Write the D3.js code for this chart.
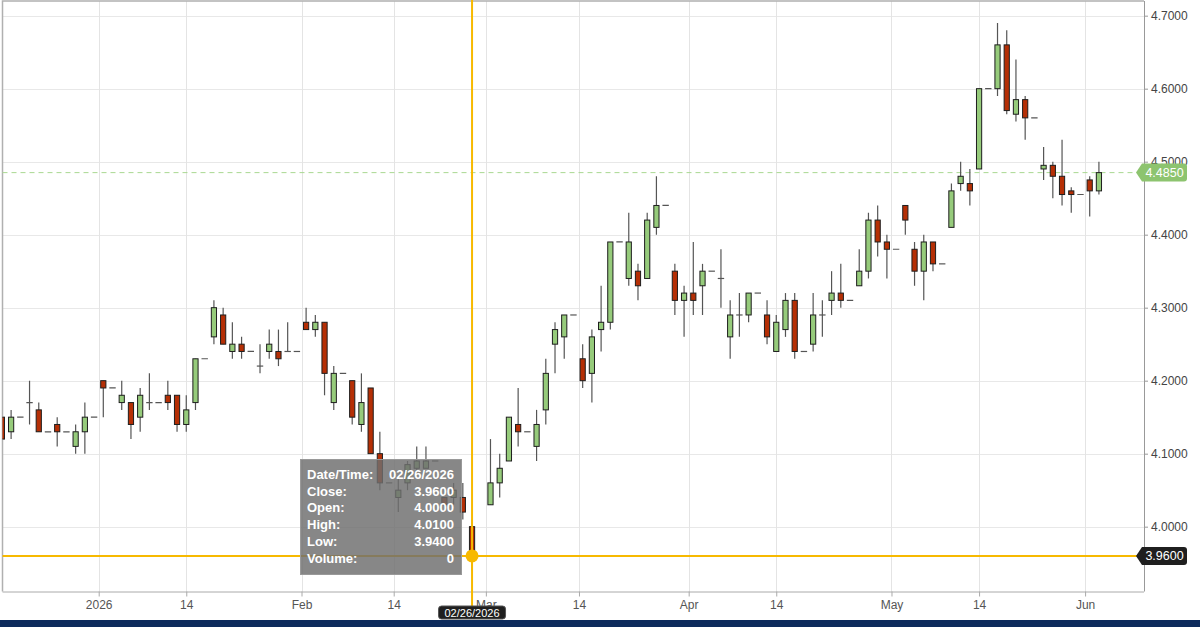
<!DOCTYPE html>
<html>
<head>
<meta charset="utf-8">
<script src="https://cdn.jsdelivr.net/npm/d3@7"></script>
<style>
  body { margin: 0; background: #fff; }
  svg { display: block; font-family: "Liberation Sans", Arial, sans-serif; }
</style>
</head>
<body>
<div id="chart"></div>
<script>
// daily bars, one slot per weekday (slot 52 = 02/27 has no bar)
const opens  = [4.15,4.13,4.15,4.17,4.16,4.13,4.14,4.13,4.11,4.13, 4.15,4.20,4.19,4.17,4.17,4.15,4.17,4.17,4.18,4.18,
                4.14,4.17,4.23,4.26,4.29,4.24,4.25,4.24,4.22,4.24, 4.24,4.24,4.24,4.28,4.27,4.28,4.17,4.21,4.20,4.14,
                4.19,4.10,4.06,4.04,4.06,4.08,4.08,4.09,4.04,4.04, 4.04,4.00,null,4.03,4.06,4.09,4.14,4.13,4.11,4.16,
                4.25,4.26,4.29,4.23,4.21,4.27,4.28,4.39,4.34,4.35, 4.34,4.41,4.44,4.35,4.31,4.32,4.33,4.35,4.34,4.26,
                4.29,4.29,4.32,4.29,4.24,4.27,4.31,4.24,4.25,4.29, 4.31,4.32,4.31,4.33,4.35,4.42,4.39,4.38,4.44,4.38,
                4.35,4.39,4.36,4.41,4.47,4.47,4.49,4.60,4.60,4.66, 4.565,4.585,4.56,4.49,4.495,4.48,4.46,4.455,4.475,4.46];
const highs  = [4.15,4.16,4.15,4.20,4.17,4.13,4.15,4.13,4.14,4.17, 4.15,4.20,4.19,4.20,4.17,4.19,4.21,4.17,4.20,4.18,
                4.18,4.23,4.23,4.31,4.30,4.28,4.26,4.24,4.25,4.27, 4.27,4.28,4.24,4.30,4.29,4.28,4.22,4.21,4.20,4.21,
                4.19,4.13,4.06,4.07,4.09,4.11,4.11,4.09,4.04,4.06, 4.06,4.01,null,4.12,4.10,4.15,4.19,4.13,4.16,4.23,
                4.28,4.29,4.29,4.25,4.27,4.33,4.39,4.39,4.43,4.36, 4.43,4.48,4.44,4.36,4.33,4.39,4.36,4.35,4.38,4.31,
                4.32,4.32,4.32,4.31,4.29,4.32,4.32,4.24,4.32,4.31, 4.35,4.36,4.31,4.38,4.43,4.44,4.40,4.38,4.44,4.39,
                4.40,4.39,4.36,4.47,4.50,4.49,4.60,4.60,4.69,4.68, 4.64,4.59,4.56,4.52,4.50,4.53,4.465,4.455,4.48,4.50];
const lows   = [4.12,4.12,4.15,4.14,4.13,4.13,4.11,4.13,4.10,4.10, 4.15,4.15,4.19,4.16,4.12,4.13,4.16,4.17,4.16,4.13,
                4.13,4.16,4.23,4.25,4.25,4.23,4.23,4.24,4.21,4.23, 4.22,4.24,4.24,4.27,4.26,4.18,4.16,4.21,4.14,4.13,
                4.10,4.05,4.06,4.02,4.05,4.07,4.08,4.09,4.03,4.03, 4.01,3.94,null,4.03,4.04,4.09,4.11,4.13,4.09,4.14,
                4.21,4.23,4.29,4.19,4.17,4.24,4.27,4.39,4.33,4.31, 4.34,4.40,4.44,4.29,4.26,4.29,4.29,4.35,4.30,4.23,
                4.26,4.28,4.32,4.25,4.24,4.26,4.23,4.24,4.24,4.26, 4.29,4.30,4.31,4.33,4.34,4.37,4.34,4.38,4.40,4.33,
                4.31,4.35,4.36,4.41,4.46,4.44,4.49,4.60,4.59,4.565, 4.555,4.53,4.56,4.475,4.45,4.44,4.43,4.455,4.425,4.455];
const closes = [4.12,4.15,4.15,4.17,4.13,4.13,4.13,4.13,4.13,4.15, 4.15,4.19,4.19,4.18,4.14,4.18,4.17,4.17,4.17,4.14,
                4.16,4.23,4.23,4.30,4.25,4.25,4.24,4.24,4.22,4.25, 4.23,4.24,4.24,4.27,4.28,4.21,4.21,4.21,4.15,4.17,
                4.10,4.06,4.06,4.05,4.085,4.09,4.09,4.09,4.03,4.05, 4.02,3.96,null,4.06,4.08,4.15,4.13,4.13,4.14,4.21,
                4.27,4.29,4.29,4.20,4.26,4.28,4.39,4.39,4.39,4.33, 4.42,4.44,4.44,4.31,4.32,4.31,4.35,4.35,4.34,4.29,
                4.29,4.32,4.32,4.26,4.28,4.31,4.24,4.24,4.29,4.29, 4.32,4.31,4.31,4.35,4.42,4.39,4.38,4.38,4.42,4.35,
                4.39,4.36,4.36,4.46,4.48,4.46,4.60,4.60,4.66,4.57, 4.585,4.56,4.56,4.495,4.48,4.455,4.455,4.455,4.46,4.485];

// x axis ticks, in slot units
const tickSlots  = [10.5, 20, 32.5, 42.5, 52.5, 62.6, 74.5, 84, 96.5, 106, 117.5];
const tickLabels = ["2026", "14", "Feb", "14", "Mar", "14", "Apr", "14", "May", "14", "Jun"];
const priceTicks = [4.0, 4.1, 4.2, 4.3, 4.4, 4.5, 4.6, 4.7];

// crosshair / tooltip
const hoverSlot = 51;
const hoverDate = "02/26/2026";
const hoverVolume = 0;

const W = 1200, H = 627;
const plotL = 2.5, plotR = 1144, plotT = 1, plotB = 591.5;

const x = d3.scaleLinear().domain([0.066, 123.89]).range([plotL, plotR]);
const y = d3.scaleLinear().domain([3.9112, 4.7201]).range([plotB, plotT]);

const svg = d3.select("#chart").append("svg")
  .attr("width", W).attr("height", H);

svg.append("defs").append("clipPath").attr("id", "plot")
  .append("rect").attr("x", plotL).attr("y", plotT)
  .attr("width", plotR - plotL).attr("height", plotB - plotT);

// gridlines
svg.append("g").selectAll("line").data(priceTicks).join("line")
  .attr("x1", plotL).attr("x2", plotR)
  .attr("y1", d => Math.round(y(d)) + 0.5).attr("y2", d => Math.round(y(d)) + 0.5)
  .attr("stroke", "#e8e8e8");
svg.append("g").selectAll("line").data(tickSlots).join("line")
  .attr("x1", d => Math.round(x(d)) + 0.5).attr("x2", d => Math.round(x(d)) + 0.5)
  .attr("y1", plotT).attr("y2", plotB)
  .attr("stroke", "#e4e4e4");

// plot border
svg.append("path")
  .attr("d", `M${plotL},${plotB} V${plotT} H${plotR}`)
  .attr("fill", "none").attr("stroke", "#b0b0b0").attr("stroke-width", 1.5);

const candles = opens.map((o, i) => o == null ? null :
  { i, o, h: highs[i], l: lows[i], c: closes[i] }).filter(d => d);

const lastClose = closes[closes.length - 1];

// last price dashed line
svg.append("line")
  .attr("x1", plotL).attr("x2", 1136)
  .attr("y1", y(lastClose)).attr("y2", y(lastClose))
  .attr("stroke", "#a9d891").attr("stroke-dasharray", "5,4");

const plot = svg.append("g").attr("clip-path", "url(#plot)");

// wicks
plot.append("g").selectAll("line").data(candles.filter(d => d.h !== d.l)).join("line")
  .attr("x1", d => x(d.i)).attr("x2", d => x(d.i))
  .attr("y1", d => y(d.h)).attr("y2", d => y(d.l))
  .attr("stroke", "#555").attr("stroke-width", 1.2);

// flat bodies (open == close)
plot.append("g").selectAll("line").data(candles.filter(d => d.o === d.c)).join("line")
  .attr("x1", d => x(d.i) - 3.2).attr("x2", d => x(d.i) + 3.2)
  .attr("y1", d => y(d.c)).attr("y2", d => y(d.c))
  .attr("stroke", "#555").attr("stroke-width", 1.2);

// bodies
plot.append("g").selectAll("rect").data(candles.filter(d => d.o !== d.c)).join("rect")
  .attr("x", d => x(d.i) - 2.6)
  .attr("width", 5.2)
  .attr("y", d => y(Math.max(d.o, d.c)))
  .attr("height", d => Math.abs(y(d.o) - y(d.c)))
  .attr("fill", d => d.c > d.o ? "#96cb7b" : "#b52f05")
  .attr("stroke", "#1e1e1e").attr("stroke-width", 1);

// right axis
const yAxis = svg.append("g").attr("transform", `translate(${plotR},0)`)
  .call(d3.axisRight(y).tickValues(priceTicks).tickFormat(d3.format(".4f"))
    .tickSize(4).tickPadding(3).tickSizeOuter(0));
yAxis.select(".domain").attr("stroke", "#999").attr("d", `M0.5,${plotT}V${plotB}`);
yAxis.selectAll(".tick line").attr("stroke", "#999");
yAxis.selectAll(".tick text").attr("fill", "#444").style("font-size", "12px")
  .style("font-family", "'Liberation Sans', Arial, sans-serif");

// bottom axis
const xAxis = svg.append("g").attr("transform", `translate(0,${plotB})`)
  .call(d3.axisBottom(x).tickValues(tickSlots).tickFormat((d, i) => tickLabels[i])
    .tickSize(5).tickPadding(4).tickSizeOuter(0));
xAxis.select(".domain").attr("stroke", "#aaa").attr("d", `M${plotL},0.5H${plotR}`);
xAxis.selectAll(".tick line").attr("stroke", "#aaa");
xAxis.selectAll(".tick text").attr("fill", "#555").style("font-size", "12px")
  .style("font-family", "'Liberation Sans', Arial, sans-serif");

// crosshair
const hx = x(hoverSlot), hy = y(closes[hoverSlot]);
const amber = "#f7b900";
svg.append("line").attr("x1", hx).attr("x2", hx).attr("y1", 0).attr("y2", 606)
  .attr("stroke", amber).attr("stroke-width", 2);
svg.append("line").attr("x1", plotL).attr("x2", 1137).attr("y1", hy).attr("y2", hy)
  .attr("stroke", amber).attr("stroke-width", 2);

// tooltip
const tip = svg.append("g");
tip.append("rect").attr("x", 300.5).attr("y", 459.5).attr("width", 161).attr("height", 115)
  .attr("fill", "#6f6f6f").attr("fill-opacity", 0.83).attr("stroke", "#999");
const fmt = d3.format(".4f");
const rows = [
  ["Date/Time:", hoverDate],
  ["Close:", fmt(closes[hoverSlot])],
  ["Open:", fmt(opens[hoverSlot])],
  ["High:", fmt(highs[hoverSlot])],
  ["Low:", fmt(lows[hoverSlot])],
  ["Volume:", String(hoverVolume)]
];
rows.forEach((r, k) => {
  tip.append("text").attr("x", 307).attr("y", 479 + k * 16.7)
    .attr("fill", "#fff").style("font-size", "13px").style("font-weight", "bold").text(r[0]);
  tip.append("text").attr("x", 454).attr("y", 479 + k * 16.7).attr("text-anchor", "end")
    .attr("fill", "#fff").style("font-size", "13px").style("font-weight", "bold").text(r[1]);
});

svg.append("circle").attr("cx", hx).attr("cy", hy).attr("r", 6.5).attr("fill", amber);

// date label under the axis
svg.append("rect").attr("x", hx - 33.5).attr("y", 606).attr("width", 67).attr("height", 13)
  .attr("rx", 3).attr("fill", "#1f1f1f").attr("stroke", "#555");
svg.append("text").attr("x", hx).attr("y", 616.5).attr("text-anchor", "middle")
  .attr("fill", "#fff").style("font-size", "11px").text(hoverDate);

// price flags on the right axis
function flag(v, fill, txtFill) {
  const cy = y(v);
  const g = svg.append("g");
  g.append("path")
    .attr("d", `M1136,${cy} L1142,${cy - 9} H1184 Q1187,${cy - 9} 1187,${cy - 6} V${cy + 6} Q1187,${cy + 9} 1184,${cy + 9} H1142 Z`)
    .attr("fill", fill);
  g.append("text").attr("x", 1164.5).attr("y", cy + 4.5).attr("text-anchor", "middle")
    .attr("fill", txtFill).style("font-size", "12.5px").text(fmt(v));
}
flag(lastClose, "#8dc46f", "#fff");
flag(closes[hoverSlot], "#1f1f1f", "#fff");

// bottom band
svg.append("rect").attr("x", 0).attr("y", 620).attr("width", W).attr("height", 7).attr("fill", "#0d2a5c");
</script>
</body>
</html>
